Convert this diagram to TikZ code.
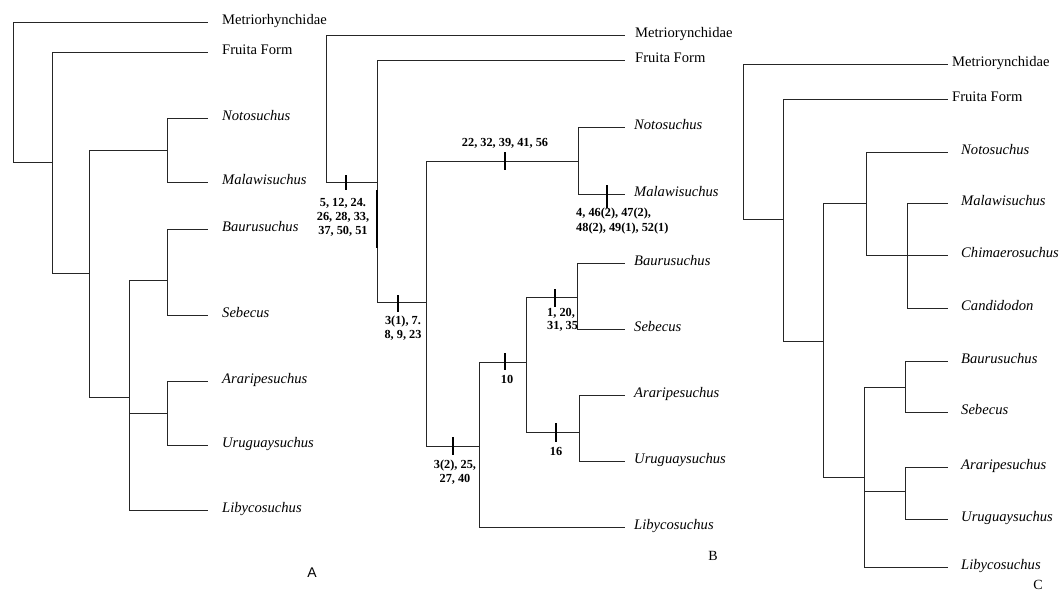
\documentclass[tikz,border=0pt]{standalone}
\usepackage{fontspec}
\setmainfont{Liberation Serif}
\setsansfont{Liberation Sans}
\begin{document}
\begin{tikzpicture}[x=1pt,y=-1pt,
  br/.style={line width=0.9pt, draw=black!85},
  tick/.style={line width=1.3pt, draw=black},
  tax/.style={anchor=west, inner sep=0pt, text height=0.7em, text depth=0.2em, font=\fontsize{14.6}{18}\selectfont},
  itax/.style={tax, font=\fontsize{14.6}{18}\selectfont\itshape},
  chr/.style={inner sep=0pt, align=center, font=\fontsize{12.3}{13.5}\selectfont\bfseries},
  panel/.style={inner sep=0pt, font=\fontsize{14}{16}\selectfont}]
\useasboundingbox (0,0) rectangle (1064,594);
% ---------------- Panel A ----------------
\coordinate (a1) at (13,162);
\coordinate (a2) at (52,162);
\coordinate (a3) at (89,273);
\coordinate (aNM) at (167,150);
\coordinate (a4) at (129,397);
\coordinate (aBS) at (167,280);
\coordinate (aAU) at (167,413);
\coordinate (aMetE) at (208,22);
\coordinate (aFruE) at (208,52);
\coordinate (aNotE) at (208,118);
\coordinate (aMalE) at (208,182);
\coordinate (aBauE) at (208,229);
\coordinate (aSebE) at (208,315);
\coordinate (aAraE) at (208,381);
\coordinate (aUruE) at (208,445);
\coordinate (aLibE) at (208,510);
\node[tax] (aMet) at (222,22) {Metriorhynchidae};
\node[tax] (aFru) at (222,52) {Fruita Form};
\node[itax] (aNot) at (222,118) {Notosuchus};
\node[itax] (aMal) at (222,182) {Malawisuchus};
\node[itax] (aBau) at (222,229) {Baurusuchus};
\node[itax] (aSeb) at (222,315) {Sebecus};
\node[itax] (aAra) at (222,381) {Araripesuchus};
\node[itax] (aUru) at (222,445) {Uruguaysuchus};
\node[itax] (aLib) at (222,510) {Libycosuchus};
\draw[br] (a1) |- (aMetE);
\draw[br] (a1) -- (a2);
\draw[br] (a2) |- (aFruE);
\draw[br] (a2) |- (a3);
\draw[br] (a3) |- (aNM);
\draw[br] (a3) |- (a4);
\draw[br] (aNM) |- (aNotE);
\draw[br] (aNM) |- (aMalE);
\draw[br] (a4) |- (aBS);
\draw[br] (a4) |- (aAU);
\draw[br] (a4) |- (aLibE);
\draw[br] (aBS) |- (aBauE);
\draw[br] (aBS) |- (aSebE);
\draw[br] (aAU) |- (aAraE);
\draw[br] (aAU) |- (aUruE);
\node[panel, font=\fontsize{14}{16}\selectfont\sffamily] (pA) at (312,573) {A};
% ---------------- Panel B ----------------
\coordinate (b1) at (326,182);
\coordinate (b2) at (377,182);
\coordinate (b3) at (426,302);
\coordinate (bNM) at (578,161);
\coordinate (b4) at (479,446);
\coordinate (b5) at (526,362);
\coordinate (bBS) at (577,297);
\coordinate (bAU) at (579,432);
\coordinate (bMetE) at (625,35);
\coordinate (bFruE) at (625,60);
\coordinate (bNotE) at (625,127);
\coordinate (bMalE) at (625,194);
\coordinate (bBauE) at (625,263);
\coordinate (bSebE) at (625,329);
\coordinate (bAraE) at (625,395);
\coordinate (bUruE) at (625,461);
\coordinate (bLibE) at (625,527);
\node[tax] (bMet) at (635,35) {Metriorynchidae};
\node[tax] (bFru) at (635,60) {Fruita Form};
\node[itax] (bNot) at (634,127) {Notosuchus};
\node[itax] (bMal) at (634,194) {Malawisuchus};
\node[itax] (bBau) at (634,263) {Baurusuchus};
\node[itax] (bSeb) at (634,329) {Sebecus};
\node[itax] (bAra) at (634,395) {Araripesuchus};
\node[itax] (bUru) at (634,461) {Uruguaysuchus};
\node[itax] (bLib) at (634,527) {Libycosuchus};
\draw[br] (b1) |- (bMetE);
\draw[br] (b1) -- (b2);
\draw[br] (b2) |- (bFruE);
\draw[br] (b2) |- (b3);
\draw[line width=2.2pt] (377,190) -- (377,248);
\draw[br] (b3) |- (bNM);
\draw[br] (b3) |- (b4);
\draw[br] (bNM) |- (bNotE);
\draw[br] (bNM) |- (bMalE);
\draw[br] (b4) |- (b5);
\draw[br] (b4) |- (bLibE);
\draw[br] (b5) |- (bBS);
\draw[br] (b5) |- (bAU);
\draw[br] (bBS) |- (bBauE);
\draw[br] (bBS) |- (bSebE);
\draw[br] (bAU) |- (bAraE);
\draw[br] (bAU) |- (bUruE);
% ticks
\draw[tick] (346,175) -- (346,190);
\draw[tick] (398,295) -- (398,312);
\draw[tick] (505,152) -- (505,170);
\draw[tick] (607,185) -- (607,208);
\draw[tick] (453,437) -- (453,455);
\draw[tick] (505,353) -- (505,370);
\draw[tick] (555,289) -- (555,307);
\draw[tick] (556,423) -- (556,442);
% character labels
\node[chr, font=\fontsize{12.3}{14}\selectfont\bfseries] (c1l) at (343,217) {5, 12, 24.\\26, 28, 33,\\37, 50, 51};
\node[chr] (c2l) at (403,328) {3(1), 7.\\8, 9, 23};
\node[chr] (c3l) at (505,143) {22, 32, 39, 41, 56};
\node[chr, align=left, anchor=west, font=\fontsize{12.3}{15}\selectfont\bfseries] (c4l) at (576,221) {4, 46(2), 47(2),\\48(2), 49(1), 52(1)};
\node[chr] (c5l) at (455,472) {3(2), 25,\\27, 40};
\node[chr] (c6l) at (507,379) {10};
\node[chr, align=left, anchor=west] (c7l) at (547,320) {1, 20,\\31, 35};
\node[chr] (c8l) at (556,451) {16};
\node[panel] (pB) at (713,556) {B};
% ---------------- Panel C ----------------
\coordinate (k1) at (743,219);
\coordinate (k2) at (783,219);
\coordinate (k3) at (823,341);
\coordinate (kN) at (866,203);
\coordinate (kMC) at (907,255);
\coordinate (k4) at (864,477);
\coordinate (kBS) at (905,387);
\coordinate (kAU) at (905,491);
\coordinate (kMetE) at (948,64);
\coordinate (kFruE) at (948,99);
\coordinate (kNotE) at (948,152);
\coordinate (kMalE) at (948,203);
\coordinate (kChiE) at (948,255);
\coordinate (kCanE) at (948,308);
\coordinate (kBauE) at (948,361);
\coordinate (kSebE) at (948,412);
\coordinate (kAraE) at (948,467);
\coordinate (kUruE) at (948,519);
\coordinate (kLibE) at (948,567);
\node[tax] (kMet) at (952,64) {Metriorynchidae};
\node[tax] (kFru) at (952,99) {Fruita Form};
\node[itax] (kNot) at (961,152) {Notosuchus};
\node[itax] (kMal) at (961,203) {Malawisuchus};
\node[itax] (kChi) at (961,255) {Chimaerosuchus};
\node[itax] (kCan) at (961,308) {Candidodon};
\node[itax] (kBau) at (961,361) {Baurusuchus};
\node[itax] (kSeb) at (961,412) {Sebecus};
\node[itax] (kAra) at (961,467) {Araripesuchus};
\node[itax] (kUru) at (961,519) {Uruguaysuchus};
\node[itax] (kLib) at (961,567) {Libycosuchus};
\draw[br] (k1) |- (kMetE);
\draw[br] (k1) -- (k2);
\draw[br] (k2) |- (kFruE);
\draw[br] (k2) |- (k3);
\draw[br] (k3) |- (kN);
\draw[br] (k3) |- (k4);
\draw[br] (kN) |- (kNotE);
\draw[br] (kN) |- (kChiE);
\draw[br] (kMC) |- (kMalE);
\draw[br] (kMC) |- (kCanE);
\draw[br] (k4) |- (kBS);
\draw[br] (k4) |- (kAU);
\draw[br] (k4) |- (kLibE);
\draw[br] (kBS) |- (kBauE);
\draw[br] (kBS) |- (kSebE);
\draw[br] (kAU) |- (kAraE);
\draw[br] (kAU) |- (kUruE);
\node[panel] (pC) at (1038,585) {C};
\end{tikzpicture}
\end{document}
